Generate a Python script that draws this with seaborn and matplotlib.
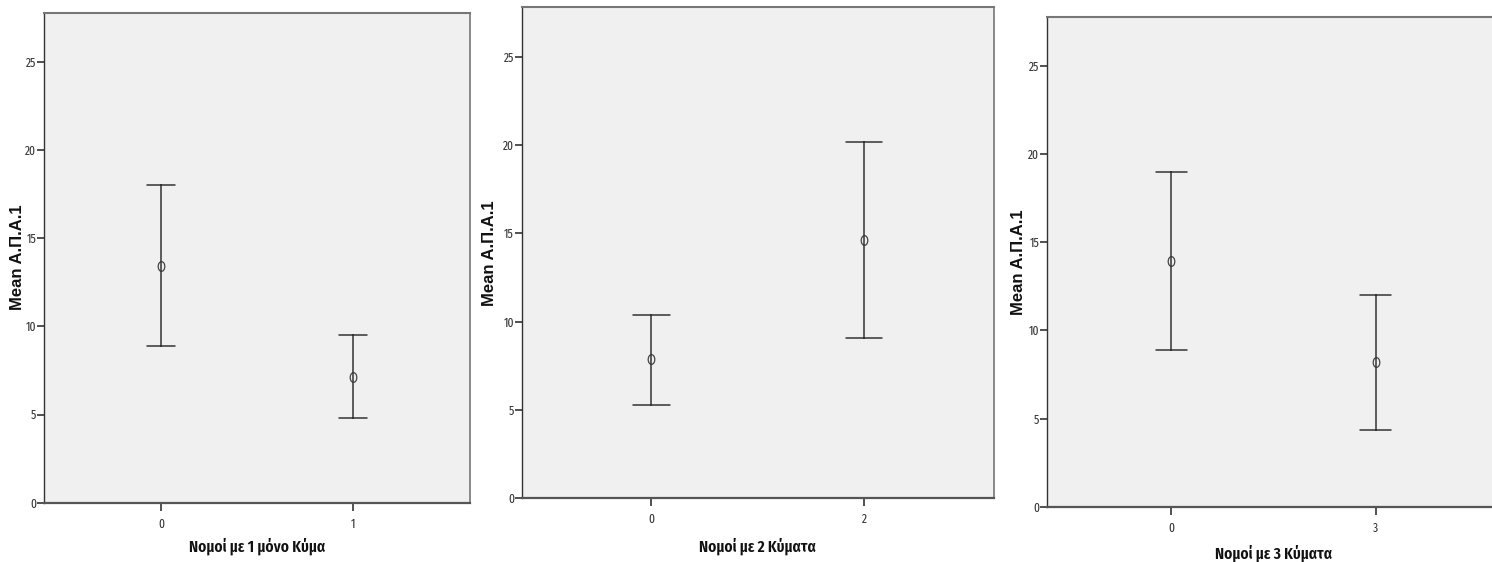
import numpy as np
import pandas as pd
import matplotlib
matplotlib.use("Agg")
import matplotlib.pyplot as plt
from matplotlib.path import Path
from matplotlib.transforms import Affine2D
import seaborn as sns

# ---- data ----
cats1 = ["0", "1"]
mean1 = [13.4, 7.15]
lo1 = [8.9, 4.8]
hi1 = [18.0, 9.5]

cats2 = ["0", "2"]
mean2 = [7.9, 14.65]
lo2 = [5.3, 9.1]
hi2 = [10.4, 20.2]

cats3 = ["0", "3"]
mean3 = [13.95, 8.2]
lo3 = [8.9, 4.35]
hi3 = [19.0, 12.0]

xlabels = ["Νομοί με 1 μόνο Κύμα", "Νομοί με 2 Κύματα", "Νομοί με 3 Κύματα"]
ylabel = "Mean Α.Π.Α.1"
yticks = [0, 5, 10, 15, 20, 25]

sns.set_theme(style="white")
plt.rcParams['font.family'] = ['Liberation Sans', 'DejaVu Sans']

W, H = 1492, 562
fig = plt.figure(figsize=(W / 100, H / 100), dpi=100)
fig.patch.set_facecolor("white")

# axes rectangles in pixels: left, top, right, bottom
rects = [(44, 12.5, 470, 502.7), (521.7, 7.3, 994, 498.3), (1047, 16.7, 1500, 506.7)]
capsizes = [0.15, 0.17, 0.15]
ylab_x = [-0.044, -0.053, -0.047]
xlab_y = [-0.072, -0.079, -0.078]

ell = Path.unit_circle().transformed(Affine2D().scale(0.68, 1.0))

narrow = ['Fira Sans Extra Condensed', 'Roboto Condensed', 'DejaVu Sans']
dark = "#333333"

def build_df(cats, lo, m, hi):
    rows = []
    for c, a, b, d in zip(cats, lo, m, hi):
        for v in (a, b, d):
            rows.append({"cat": c, "val": v})
    return pd.DataFrame(rows)

datasets = [(cats1, lo1, mean1, hi1), (cats2, lo2, mean2, hi2), (cats3, lo3, mean3, hi3)]

for i, ((cats, lo, m, hi), (l, t, r, b)) in enumerate(zip(datasets, rects)):
    ax = fig.add_axes([l / W, (H - b) / H, (r - l) / W, (b - t) / H])
    ax.set_facecolor("#f0f0f0")
    df = build_df(cats, lo, m, hi)
    sns.pointplot(data=df, x="cat", y="val", order=cats, ax=ax,
                  estimator="median", errorbar=("pi", 100),
                  capsize=capsizes[i], color=dark, linestyle="none",
                  marker=ell, markersize=7, markerfacecolor="none",
                  markeredgecolor="#444444", markeredgewidth=0.9,
                  err_kws={"linewidth": 1.1, "color": dark})
    ax.set_xlim(-0.61, 1.61)
    ax.set_ylim(0, 27.8)
    ax.set_yticks(yticks)
    ax.set_yticklabels([str(v) for v in yticks], fontfamily=narrow,
                       fontweight="normal", fontsize=9, color="#333333")
    ax.set_xticks(range(len(cats)))
    ax.set_xticklabels(cats, fontfamily=narrow, fontweight="normal",
                       fontsize=9, color="#333333")
    ax.tick_params(axis="y", direction="out", length=5, width=1.2, color=dark, pad=0.5, left=True)
    ax.tick_params(axis="x", direction="out", length=6, width=1.2, color=dark, pad=5, bottom=True)
    for s in ax.spines.values():
        s.set_visible(True)
    ax.spines["top"].set_color("#777777")
    ax.spines["top"].set_linewidth(1.5)
    ax.spines["right"].set_color("#777777")
    ax.spines["right"].set_linewidth(1.2)
    ax.spines["left"].set_color("#333333")
    ax.spines["left"].set_linewidth(1.0)
    ax.spines["bottom"].set_color("#555555")
    ax.spines["bottom"].set_linewidth(1.6)
    ax.set_ylabel(ylabel, fontsize=12, fontweight="bold", color="#111111")
    ax.yaxis.set_label_coords(ylab_x[i], 0.5)
    ax.set_xlabel(xlabels[i], fontsize=12, fontweight="semibold", color="#111111",
                  fontfamily=narrow)
    ax.xaxis.set_label_coords(0.5, xlab_y[i])
    ax.grid(False)

fig.savefig("out.png", dpi=100, facecolor="white")
